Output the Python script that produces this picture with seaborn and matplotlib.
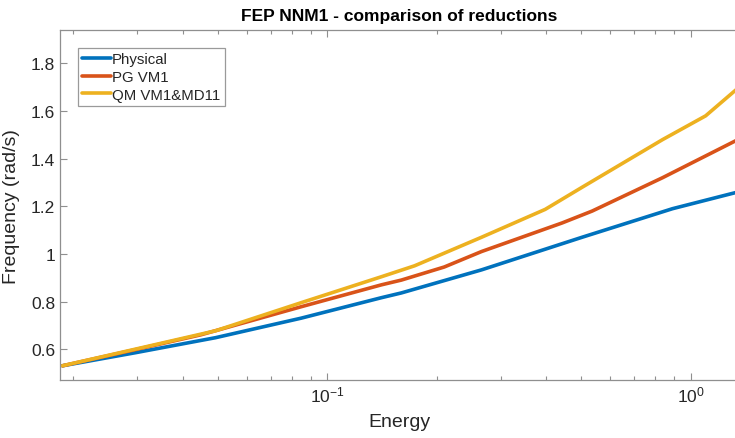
import numpy as np
import pandas as pd
import matplotlib
matplotlib.use("Agg")
import matplotlib.pyplot as plt
from matplotlib.ticker import FuncFormatter, FixedLocator, LogLocator
import seaborn as sns

# Energy / frequency backbone curves for each reduction
physical_energy = [0.0187, 0.0297, 0.0493, 0.0848, 0.141, 0.160, 0.266, 0.503, 0.892, 1.349]
physical_freq = [0.530, 0.585, 0.648, 0.730, 0.816, 0.836, 0.933, 1.070, 1.190, 1.260]

pg_energy = [0.0187, 0.0297, 0.0449, 0.0848, 0.141, 0.160, 0.210, 0.266, 0.443, 0.536, 0.837, 1.349]
pg_freq = [0.530, 0.598, 0.660, 0.778, 0.870, 0.890, 0.945, 1.010, 1.130, 1.180, 1.320, 1.480]

qm_energy = [0.0187, 0.0297, 0.0493, 0.0848, 0.141, 0.174, 0.266, 0.398, 0.503, 0.837, 1.100, 1.349]
qm_freq = [0.530, 0.600, 0.677, 0.795, 0.904, 0.950, 1.070, 1.187, 1.280, 1.480, 1.580, 1.696]

series_names = ["Physical", "PG VM1", "QM VM1&MD11"]
series_colors = ["#0072BD", "#D95319", "#EDB120"]

frames = []
for name, e, f in zip(series_names,
                      [physical_energy, pg_energy, qm_energy],
                      [physical_freq, pg_freq, qm_freq]):
    frames.append(pd.DataFrame({"Energy": e, "Frequency": f, "Model": name}))
df = pd.concat(frames, ignore_index=True)

sns.set_style("white")
plt.rcParams["font.family"] = ["Liberation Sans", "DejaVu Sans"]
plt.rcParams["mathtext.fontset"] = "custom"
plt.rcParams["mathtext.rm"] = "Liberation Sans"
plt.rcParams["mathtext.it"] = "Liberation Sans"

fig = plt.figure(figsize=(7.35, 4.39), dpi=100)
ax = fig.add_axes([0.0816, 0.132, 0.9184 + 0.004, 0.797])

sns.lineplot(data=df, x="Energy", y="Frequency", hue="Model",
             hue_order=series_names, palette=series_colors,
             estimator=None, sort=False, linewidth=2.6, ax=ax)

ax.set_xscale("log")
ax.set_xlim(0.0184, 1.35)
ax.set_ylim(0.47, 1.94)
ax.xaxis.set_major_locator(LogLocator(base=10))
ax.xaxis.set_minor_locator(LogLocator(base=10, subs=np.arange(2, 10)))

ax.yaxis.set_major_locator(FixedLocator([0.6, 0.8, 1.0, 1.2, 1.4, 1.6, 1.8]))
ax.yaxis.set_major_formatter(FuncFormatter(lambda v, p: f"{v:g}"))

text_color = "#262626"
spine_color = "#8f8f8f"
for side in ["left", "bottom", "top"]:
    ax.spines[side].set_color(spine_color)
    ax.spines[side].set_linewidth(0.9)
ax.spines["right"].set_visible(False)

ax.tick_params(axis="both", which="both", direction="in",
               bottom=True, top=True, left=True, right=False,
               colors=spine_color, labelcolor=text_color, labelsize=12.5)
ax.tick_params(axis="both", which="major", length=5, width=0.8)
ax.tick_params(axis="both", which="minor", length=3, width=0.8)
ax.tick_params(axis="y", which="minor", left=False)

ax.set_xlabel("Energy", fontsize=14, color=text_color, labelpad=6)
ax.set_ylabel("Frequency (rad/s)", fontsize=14, color=text_color, labelpad=8)
ax.set_title("FEP NNM1 - comparison of reductions", fontsize=12.5,
             fontweight="bold", color="black", pad=7)

leg = ax.legend(loc="upper left", bbox_to_anchor=(0.026, 0.95), fontsize=10.8,
                frameon=True, fancybox=False, framealpha=1.0,
                handlelength=1.9, handletextpad=0.1,
                borderpad=0.3, labelspacing=0.25, borderaxespad=0.0)
leg.get_frame().set_edgecolor("#9a9a9a")
leg.get_frame().set_linewidth(0.9)
for line in leg.get_lines():
    line.set_linewidth(2.6)
for t in leg.get_texts():
    t.set_color(text_color)

fig.savefig("out.png", dpi=100)
